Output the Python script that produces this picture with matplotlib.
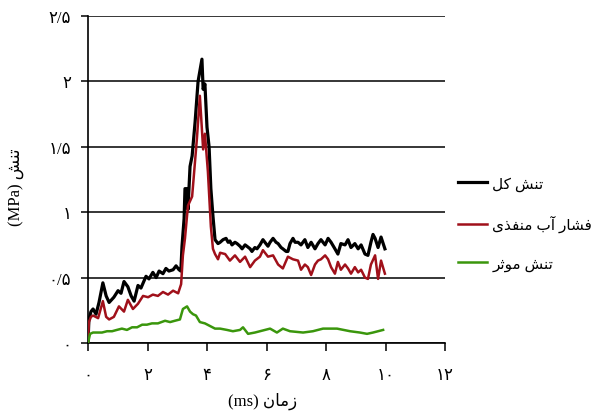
import matplotlib
matplotlib.use("Agg")
import matplotlib.pyplot as plt

# ---------------- data ----------------
time_total = [0, 0.03, 0.10, 0.17, 0.27, 0.37, 0.50, 0.61, 0.71, 0.87, 1.01, 1.11, 1.21, 1.34, 1.45,
              1.55, 1.68, 1.78, 1.95, 2.05, 2.18, 2.29, 2.39, 2.52, 2.62, 2.72, 2.86, 2.96, 3.06,
              3.12, 3.16, 3.23, 3.26, 3.33, 3.36, 3.43, 3.50, 3.60, 3.70, 3.83, 3.87, 3.93, 4.00,
              4.07, 4.13, 4.20,
              4.27, 4.37, 4.44, 4.54, 4.64, 4.71, 4.77, 4.84, 4.94, 5.01, 5.11, 5.18, 5.28, 5.34,
              5.45, 5.51, 5.61, 5.68, 5.78, 5.88, 5.98, 6.05, 6.12, 6.22, 6.32, 6.39, 6.49, 6.55,
              6.66, 6.72, 6.79, 6.89, 6.96, 7.06, 7.16, 7.29, 7.39, 7.50, 7.63, 7.73, 7.83, 7.97,
              8.07, 8.17, 8.30, 8.40, 8.50, 8.64, 8.74, 8.84, 8.97, 9.08, 9.18, 9.31, 9.41, 9.51,
              9.58, 9.65, 9.75, 9.85, 9.98]
stress_total = [0, 0.18, 0.24, 0.26, 0.22, 0.31, 0.46, 0.36, 0.31, 0.35, 0.40, 0.38, 0.47, 0.43, 0.36,
                0.32, 0.44, 0.42, 0.51, 0.49, 0.54, 0.50, 0.55, 0.53, 0.57, 0.55, 0.56, 0.59, 0.56,
                0.55, 0.74, 0.95, 1.18, 1.18, 1.02, 1.35, 1.43, 1.69, 2.00, 2.17, 1.94, 1.98, 1.65,
                1.50, 1.18, 0.97,
                0.79, 0.76, 0.77, 0.79, 0.80, 0.77, 0.78, 0.75, 0.77, 0.76, 0.74, 0.72, 0.75, 0.74,
                0.72, 0.70, 0.73, 0.72, 0.75, 0.79, 0.76, 0.74, 0.77, 0.80, 0.77, 0.76, 0.73, 0.72,
                0.70, 0.70, 0.76, 0.80, 0.77, 0.77, 0.75, 0.79, 0.73, 0.77, 0.72, 0.76, 0.79, 0.75,
                0.80, 0.77, 0.72, 0.68, 0.76, 0.75, 0.79, 0.73, 0.76, 0.72, 0.75, 0.68, 0.67, 0.77,
                0.83, 0.80, 0.73, 0.81, 0.72]

time_pore = [0, 0.03, 0.10, 0.17, 0.34, 0.50, 0.61, 0.71, 0.87, 1.04, 1.21, 1.34, 1.51, 1.68, 1.85,
             2.02, 2.18, 2.35, 2.52, 2.69, 2.86, 3.03, 3.13, 3.19, 3.26, 3.36, 3.50, 3.66, 3.76,
             3.87, 3.93, 4.03, 4.13, 4.20, 4.27, 4.37, 4.44, 4.61, 4.77, 4.94, 5.11, 5.28, 5.45,
             5.61, 5.78, 5.88, 6.05, 6.22, 6.39, 6.55, 6.72, 6.89, 7.06, 7.16, 7.29, 7.39, 7.50,
             7.63, 7.73, 7.83, 7.97, 8.07, 8.17, 8.30, 8.40, 8.50, 8.64, 8.74, 8.84, 8.97, 9.08,
             9.18, 9.31, 9.41, 9.51, 9.65, 9.75, 9.85, 9.98]
pore_pressure = [0, 0.16, 0.20, 0.21, 0.19, 0.32, 0.20, 0.18, 0.20, 0.28, 0.24, 0.33, 0.26, 0.30, 0.36,
                 0.35, 0.37, 0.36, 0.39, 0.37, 0.40, 0.38, 0.45, 0.67, 0.80, 1.05, 1.12, 1.56, 1.89,
                 1.48, 1.60, 1.31, 0.89, 0.72, 0.68, 0.64, 0.69, 0.68, 0.63, 0.67, 0.62, 0.66, 0.58,
                 0.63, 0.66, 0.71, 0.66, 0.67, 0.60, 0.57, 0.66, 0.64, 0.63, 0.56, 0.60, 0.58, 0.52,
                 0.60, 0.63, 0.64, 0.67, 0.64, 0.58, 0.53, 0.62, 0.56, 0.60, 0.57, 0.53, 0.58, 0.54,
                 0.56, 0.50, 0.49, 0.60, 0.67, 0.49, 0.63, 0.53]

time_eff = [0, 0.07, 0.17, 0.34, 0.47, 0.64, 0.81, 0.97, 1.14, 1.31, 1.48, 1.65, 1.82, 1.98, 2.15,
            2.35, 2.59, 2.76, 2.92, 3.09, 3.19, 3.33, 3.43, 3.53, 3.63, 3.76, 3.93, 4.10, 4.27,
            4.44, 4.67, 4.87, 5.11, 5.21, 5.38, 5.61, 5.78, 6.12, 6.35, 6.55, 6.79, 7.23, 7.56,
            7.90, 8.37, 8.81, 9.14, 9.38, 9.58, 9.92]
eff_stress = [0, 0.07, 0.08, 0.08, 0.08, 0.09, 0.09, 0.10, 0.11, 0.10, 0.12, 0.12, 0.14, 0.14, 0.15,
              0.15, 0.17, 0.16, 0.17, 0.18, 0.26, 0.28, 0.24, 0.22, 0.21, 0.16, 0.15, 0.13, 0.11,
              0.11, 0.10, 0.09, 0.10, 0.12, 0.07, 0.08, 0.09, 0.11, 0.08, 0.11, 0.09, 0.08, 0.09,
              0.11, 0.11, 0.09, 0.08, 0.07, 0.08, 0.10]

x_ticks = [0, 2, 4, 6, 8, 10, 12]
x_tick_labels = ["۰", "۲", "۴", "۶", "۸", "۱۰", "۱۲"]
y_ticks = [0, 0.5, 1, 1.5, 2, 2.5]
y_tick_labels = ["۰", "۰/۵", "۱", "۱/۵", "۲", "۲/۵"]
series_labels = ["تنش کل", "فشار آب منفذی", "تنش موثر"]
x_label = "زمان (ms)"
y_label = "تنش (MPa)"

# ------------- minimal Arabic/Persian shaping for display -------------
FORMS = {
    "ت": "\uFE95\uFE96\uFE97\uFE98", "ن": "\uFEE5\uFEE6\uFEE7\uFEE8",
    "ش": "\uFEB5\uFEB6\uFEB7\uFEB8", "ک": "\uFB8E\uFB8F\uFB90\uFB91",
    "ل": "\uFEDD\uFEDE\uFEDF\uFEE0", "ف": "\uFED1\uFED2\uFED3\uFED4",
    "ا": "\uFE8D\uFE8E", "ر": "\uFEAD\uFEAE", "آ": "\uFE81\uFE82",
    "ب": "\uFE8F\uFE90\uFE91\uFE92", "م": "\uFEE1\uFEE2\uFEE3\uFEE4",
    "ذ": "\uFEAB\uFEAC", "ی": "\uFBFC\uFBFD\uFBFE\uFBFF",
    "و": "\uFEED\uFEEE", "ث": "\uFE99\uFE9A\uFE9B\uFE9C", "ز": "\uFEAF\uFEB0",
}


def shape_word(w):
    out = []
    for i, c in enumerate(w):
        f = FORMS.get(c)
        if f is None:
            out.append(c)
            continue
        prev = w[i - 1] if i > 0 else ""
        nxt = w[i + 1] if i + 1 < len(w) else ""
        pj = prev in FORMS and len(FORMS[prev]) == 4
        nj = nxt in FORMS and len(f) == 4
        if pj and nj:
            g = f[3]
        elif pj:
            g = f[1]
        elif nj:
            g = f[2]
        else:
            g = f[0]
        out.append(g)
    return "".join(reversed(out))


def visual(s):
    toks = s.split(" ")
    res = [shape_word(t) if any(ch in FORMS for ch in t) else t for t in toks]
    return " ".join(reversed(res))


FAM = ["Liberation Serif", "DejaVu Sans"]
plt.rcParams["font.family"] = FAM

fig = plt.figure(figsize=(5.94, 4.14), dpi=100)
ax = fig.add_axes([88 / 594, 1 - 344 / 414, (445 - 88) / 594, (344 - 17) / 414])

ax.plot(time_total, stress_total, color="black", lw=2.3, label=visual(series_labels[0]), zorder=3)
ax.plot(time_pore, pore_pressure, color="#A0101A", lw=1.8, label=visual(series_labels[1]), zorder=4)
ax.plot(time_eff, eff_stress, color="#3A960C", lw=1.8, label=visual(series_labels[2]), zorder=4)

ax.set_xlim(0, 12)
ax.set_ylim(0, 2.5)
ax.set_xticks(x_ticks)
ax.set_xticklabels(x_tick_labels, fontsize=12)
ax.set_yticks(y_ticks)
ax.set_yticklabels(y_tick_labels, fontsize=12)
ax.tick_params(axis="x", direction="out", length=6, width=1.1, pad=11)
ax.tick_params(axis="y", direction="out", length=5, width=1.1, pad=7)
ax.yaxis.grid(True, color="black", lw=1.1)
ax.set_axisbelow(True)
for s in ["top", "right"]:
    ax.spines[s].set_visible(False)
for s in ["left", "bottom"]:
    ax.spines[s].set_linewidth(1.2)

ax.set_xlabel(visual(x_label), fontsize=12)
ax.xaxis.set_label_coords(0.49, -0.148)
ax.set_ylabel(visual(y_label), fontsize=12, va="center")
ax.yaxis.set_label_coords(-0.20, 0.48)

fig.legend(loc="upper left", bbox_to_anchor=(458 / 594, 1 - 177 / 414), frameon=False,
           fontsize=11, handlelength=1.9, handletextpad=0.35, labelspacing=1.6, borderpad=0,
           borderaxespad=0)

fig.savefig("out.png", dpi=100)
